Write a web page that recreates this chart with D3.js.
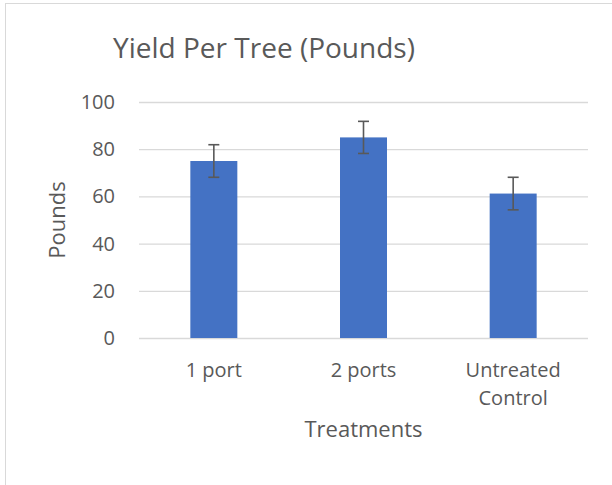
<!DOCTYPE html>
<html>
<head>
<meta charset="utf-8">
<script src="https://cdn.jsdelivr.net/npm/d3@7"></script>
<style>
  html, body { margin: 0; padding: 0; background: #fff; }
  svg { display: block; }
</style>
</head>
<body>
<svg id="chart" width="612" height="485"></svg>
<script>
// ─── Data ────────────────────────────────────────────────────────────────────
const categories = [['1 port'], ['2 ports'], ['Untreated', 'Control']];
const yieldValues = [75, 85, 61.2];
const errorValues = [6.9, 6.8, 6.9];
const yTicks = [0, 20, 40, 60, 80, 100];

// ─── Layout ──────────────────────────────────────────────────────────────────
const W = 612, H = 485;
const PLOT = { left: 139, right: 588, top: 102, bottom: 338 };
const FONT = '"Open Sans", sans-serif';
const TEXT = '#595959';

const svg = d3.select('#chart');

// chart frame (cropped on the right and bottom, like the source)
svg.append('rect')
  .attr('x', 5.5).attr('y', 3.5)
  .attr('width', W + 20).attr('height', H + 20)
  .attr('fill', '#fff')
  .attr('stroke', '#d9d9d9');

const keys = categories.map(c => c.join(' '));

const x = d3.scaleBand()
  .domain(keys)
  .range([PLOT.left, PLOT.right])
  .paddingInner(0.686)
  .paddingOuter(0.343);

const y = d3.scaleLinear()
  .domain([0, 100])
  .range([PLOT.bottom, PLOT.top]);

// ── Gridlines + y tick labels ────────────────────────────────────────────────
const yAxis = svg.append('g')
  .attr('transform', `translate(${PLOT.left},0)`)
  .call(d3.axisLeft(y).tickValues(yTicks).tickSize(-(PLOT.right - PLOT.left)).tickPadding(24));
yAxis.select('.domain').remove();
yAxis.selectAll('.tick line').attr('stroke', '#d9d9d9').attr('stroke-width', 1.3);
yAxis.selectAll('.tick text')
  .attr('fill', TEXT)
  .style('font-family', FONT)
  .style('font-size', '20px');

// ── Bars ─────────────────────────────────────────────────────────────────────
svg.append('g')
  .selectAll('rect')
  .data(yieldValues)
  .join('rect')
  .attr('x', (d, i) => x(keys[i]))
  .attr('y', d => y(d))
  .attr('width', x.bandwidth())
  .attr('height', d => y(0) - y(d))
  .attr('fill', '#4472c4');

// ── Error bars ───────────────────────────────────────────────────────────────
const err = svg.append('g')
  .attr('stroke', '#595959')
  .attr('stroke-width', 1.6)
  .attr('fill', 'none')
  .selectAll('g')
  .data(yieldValues)
  .join('g');
const cx = i => x(keys[i]) + x.bandwidth() / 2;
const CAP = 5.5;
err.append('line')
  .attr('x1', (d, i) => cx(i)).attr('x2', (d, i) => cx(i))
  .attr('y1', (d, i) => y(d + errorValues[i]))
  .attr('y2', (d, i) => y(d - errorValues[i]));
err.append('line')
  .attr('x1', (d, i) => cx(i) - CAP).attr('x2', (d, i) => cx(i) + CAP)
  .attr('y1', (d, i) => y(d + errorValues[i]))
  .attr('y2', (d, i) => y(d + errorValues[i]));
err.append('line')
  .attr('x1', (d, i) => cx(i) - CAP).attr('x2', (d, i) => cx(i) + CAP)
  .attr('y1', (d, i) => y(d - errorValues[i]))
  .attr('y2', (d, i) => y(d - errorValues[i]));

// ── Category labels ──────────────────────────────────────────────────────────
const catLabel = svg.append('g')
  .selectAll('text')
  .data(categories)
  .join('text')
  .attr('x', (d, i) => cx(i))
  .attr('y', 377)
  .attr('text-anchor', 'middle')
  .attr('fill', TEXT)
  .style('font-family', FONT)
  .style('font-size', '20px');
catLabel.selectAll('tspan')
  .data(d => d)
  .join('tspan')
  .attr('x', function () { return this.parentNode.getAttribute('x'); })
  .attr('dy', (d, i) => i === 0 ? 0 : 28)
  .text(d => d);

// ── Titles ───────────────────────────────────────────────────────────────────
svg.append('text')
  .attr('x', 264)
  .attr('y', 58)
  .attr('text-anchor', 'middle')
  .attr('fill', TEXT)
  .style('font-family', FONT)
  .style('font-size', '28px')
  .text('Yield Per Tree (Pounds)');

svg.append('text')
  .attr('x', (PLOT.left + PLOT.right) / 2)
  .attr('y', 437)
  .attr('text-anchor', 'middle')
  .attr('fill', TEXT)
  .style('font-family', FONT)
  .style('font-size', '22px')
  .text('Treatments');

svg.append('text')
  .attr('transform', `translate(65,220) rotate(-90)`)
  .attr('text-anchor', 'middle')
  .attr('fill', TEXT)
  .style('font-family', FONT)
  .style('font-size', '22px')
  .text('Pounds');
</script>
</body>
</html>
